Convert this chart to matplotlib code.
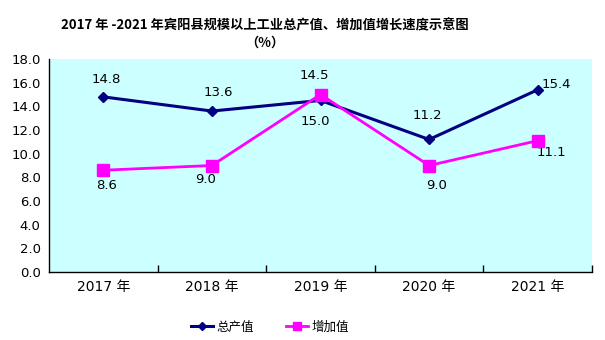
import matplotlib
matplotlib.use("Agg")
import matplotlib.pyplot as plt
from matplotlib.ticker import FixedLocator, FormatStrFormatter

plt.rcParams['font.family'] = ['DejaVu Sans', 'Noto Sans CJK SC']

# data
years = ["2017 年", "2018 年", "2019 年", "2020 年", "2021 年"]
total_output = [14.8, 13.6, 14.5, 11.2, 15.4]
added_value = [8.6, 9.0, 15.0, 9.0, 11.1]
series_names = ["总产值", "增加值"]
title = "2017 年 -2021 年宾阳县规模以上工业总产值、增加值增长速度示意图\n（%）"

# label offsets in pixels (dx, dy), screen up positive
total_offsets = [(3, 17), (6, 19), (-6, 25), (-2, 24), (19, 5)]
added_offsets = [(3, -15), (-6, -14), (-5, -27), (7, -20), (14, -12)]

fig = plt.figure(figsize=(6.05, 3.4), dpi=100)
ax = fig.add_axes([49 / 605, 68 / 340, 543 / 605, 213 / 340])
ax.set_facecolor("#CCFFFF")

x = list(range(len(years)))
ax.plot(x, total_output, color="#000080", lw=2.2, marker="D", ms=5.5,
        label=series_names[0], zorder=3)
ax.plot(x, added_value, color="#FF00FF", lw=2.0, marker="s", ms=8,
        label=series_names[1], zorder=4)

px = 0.72  # points per pixel at dpi 100
for xi, v, (dx, dy) in zip(x, total_output, total_offsets):
    ax.annotate(f"{v:.1f}", (xi, v), xytext=(dx * px, dy * px),
                textcoords="offset points", ha="center", va="center",
                fontsize=9.5, color="black")
for xi, v, (dx, dy) in zip(x, added_value, added_offsets):
    ax.annotate(f"{v:.1f}", (xi, v), xytext=(dx * px, dy * px),
                textcoords="offset points", ha="center", va="center",
                fontsize=9.5, color="black")

ax.set_xlim(-0.5, len(years) - 0.5)
ax.set_ylim(0, 18)
ax.yaxis.set_major_locator(FixedLocator([i * 2 for i in range(10)]))
ax.yaxis.set_major_formatter(FormatStrFormatter("%.1f"))
ax.tick_params(axis="y", length=0, labelsize=9.5, pad=6)

ax.xaxis.set_major_locator(FixedLocator([i + 0.5 for i in range(len(years))]))
ax.xaxis.set_major_formatter(plt.NullFormatter())
ax.xaxis.set_minor_locator(FixedLocator(x))
ax.set_xticklabels(years, minor=True)
ax.tick_params(axis="x", which="major", direction="in", length=5, width=1)
ax.tick_params(axis="x", which="minor", length=0, labelsize=10, pad=6)

for s in ["top", "right"]:
    ax.spines[s].set_visible(False)
for s in ["left", "bottom"]:
    ax.spines[s].set_linewidth(1.0)
    ax.spines[s].set_color("black")

fig.text(265 / 605, 1 - 34 / 340, title, ha="center", va="center",
         fontsize=9.5, fontweight="bold", family=["Noto Sans CJK SC"],
         linespacing=1.35)

fig.legend(loc="center", bbox_to_anchor=(270 / 605, 13 / 340), ncol=2,
           frameon=False, fontsize=9, handlelength=1.8,
           columnspacing=2.5, handletextpad=0.3, markerscale=0.8)

fig.savefig("out.png", dpi=100)
